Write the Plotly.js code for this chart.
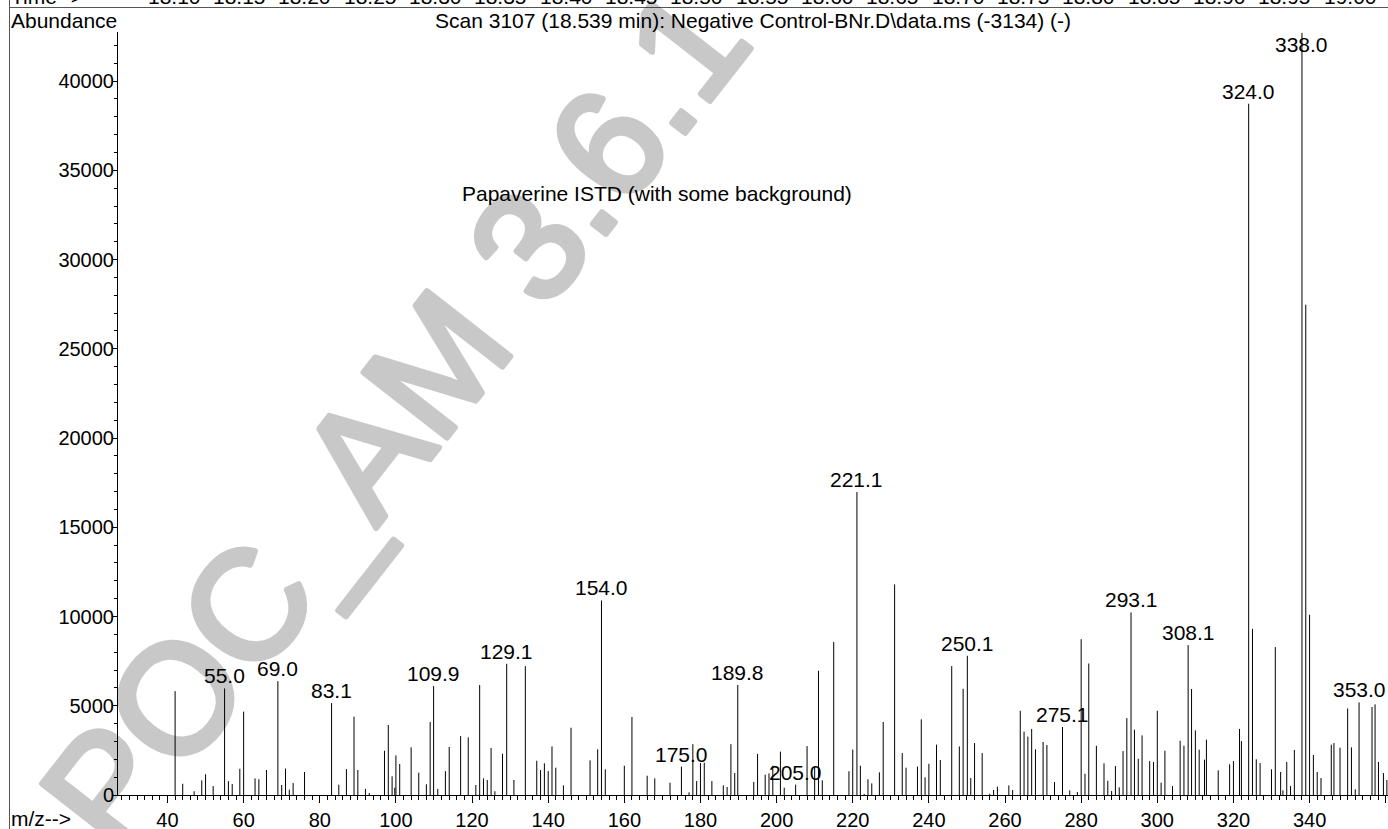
<!DOCTYPE html>
<html>
<head>
<meta charset="utf-8">
<script src="https://cdn.plot.ly/plotly-3.0.1.min.js"></script>
<style>
  html, body { margin: 0; padding: 0; background: #fff; }
  #chart { width: 1388px; height: 829px; }
</style>
</head>
<body>
<div id="chart"></div>
<script>
// Mass spectrum of scan 3107: m/z of each centroid and its abundance
const mz = [
  42, 44, 47, 49, 50, 52, 55.0, 56, 57, 59, 60, 63, 64, 66, 69.0, 70, 71, 72, 73, 76,
  83.1, 85, 87, 89, 90, 92, 93, 97, 98, 99, 99.7, 100, 101, 104, 106, 108, 109, 109.9, 111, 113,
  114, 117, 119, 121, 122, 123, 124, 125, 126, 128, 129.1, 131, 134, 137, 138, 139, 140, 141, 142, 144,
  146, 151, 153, 154.0, 155, 160, 162, 166, 168, 172, 175.0, 177, 178, 179, 180, 181, 183, 186, 187, 188,
  189, 189.8, 194, 195, 197, 198, 199, 201, 202, 205.0, 208, 210, 211, 212, 215, 219, 220, 221.1, 222, 223,
  224, 225, 227, 228, 231, 233, 234, 237, 238, 239, 240, 242, 243, 246, 248, 249, 250.1, 251, 252, 254,
  256, 257, 258, 261, 262, 264, 265, 266, 267, 268, 270, 271, 273, 275.1, 277, 279, 280, 281, 282, 284,
  286, 287, 288, 289, 290, 291, 292, 293.1, 294, 295, 296, 298, 299, 300, 301, 302, 304, 306, 307, 308.1,
  309, 310, 311, 312.4, 312.9, 316, 319, 320, 321.6, 322.1, 324.0, 325, 326, 327, 330, 331, 332.4, 333, 334, 335,
  336, 338.0, 339, 340, 341, 342, 343, 345.7, 346.4, 348, 350, 351, 352, 353.0, 356.4, 357.2, 358.1, 359.4, 360.3
];
const abundance = [
  5820, 630, 210, 820, 1160, 500, 5970, 780, 615, 1470, 4670, 930, 880, 1400, 6380, 560, 1480, 300, 670, 1290,
  5150, 580, 1450, 4390, 1400, 340, 110, 2480, 3920, 1045, 410, 2220, 1735, 2670, 1250, 600, 4090, 6100, 340, 1340,
  2690, 3300, 3230, 560, 6160, 930, 840, 2630, 210, 2310, 7350, 840, 7220, 1920, 1400, 1775, 1340, 2720, 1530, 540,
  3770, 1940, 2560, 10900, 1440, 1640, 4370, 1080, 930, 690, 1590, 150, 2850, 780, 1790, 1810, 780, 540, 450, 2850,
  1230, 6160, 730, 2300, 1140, 1210, 1640, 2430, 410, 580, 2740, 1590, 6960, 820, 8570, 1330, 2540, 16980, 1640, 60,
  880, 650, 1270, 4090, 11800, 2350, 1530, 1590, 4240, 990, 1750, 2820, 1960, 7220, 2720, 5950, 7800, 950, 2910, 2350,
  75, 280, 470, 540, 280, 4720, 3550, 3270, 3700, 2560, 2970, 2800, 730, 3810, 260, 170, 8730, 1190, 7370, 2760,
  1775, 800, 225, 1620, 430, 2460, 4310, 10230, 3660, 2030, 3340, 1900, 1850, 4720, 690, 2480, 500, 3040, 2760, 8400,
  5940, 3620, 2540, 1980, 3100, 1380, 1720, 1900, 3700, 3020, 38730, 9310, 2000, 1790, 1440, 8290, 1290, 260, 1850, 500,
  2520, 42700, 27470, 10100, 2240, 1290, 950, 2820, 2910, 2650, 4850, 2670, 320, 5190, 4930, 5080, 1850, 1230, 840
];
// Peaks that carry an m/z label
const labelledMz = [55.0, 69.0, 83.1, 109.9, 129.1, 154.0, 175.0, 189.8, 205.0, 221.1,
                    250.1, 275.1, 293.1, 308.1, 324.0, 338.0, 353.0];
// Retention-time ruler along the top strip
const times = [18.10, 18.15, 18.20, 18.25, 18.30, 18.35, 18.40, 18.45, 18.50, 18.55,
               18.60, 18.65, 18.70, 18.75, 18.80, 18.85, 18.90, 18.95, 19.00];

const W = 1388, H = 829;
const M = { l: 118, r: 0, t: 32, b: 34 };
const plotW = W - M.l - M.r, plotH = H - M.t - M.b;
const yMax = 42750;
// pixel -> paper helpers for the frame drawn around the plot
const px = x => (x - M.l) / plotW;
const py = y => 1 - (y - M.t) / plotH;

const FONT = 'Liberation Sans, Arial, Helvetica, sans-serif';
const fs = 21;

// Stick spectrum: one vertical segment per centroid
const sx = [], sy = [];
mz.forEach((m, i) => { sx.push(m, m, null); sy.push(0, abundance[i], null); });

const sticks = {
  type: 'scatter', mode: 'lines', x: sx, y: sy,
  line: { color: '#000', width: 1 }, hoverinfo: 'skip', showlegend: false,
  connectgaps: false
};

const annotations = [];

// Diagonal stamp across the page (translucent so the sticks show through)
annotations.push({
  xref: 'paper', yref: 'paper', x: px(395), y: py(418), xanchor: 'center', yanchor: 'middle',
  text: 'POC_AM 3.6.1', textangle: -52, showarrow: false, opacity: 0.21,
  font: { family: FONT, size: 154, color: '#000' }
});

// m/z labels above the labelled peaks (pinned under the top edge if they would not fit)
const unitsPerPx = yMax / plotH;
labelledMz.forEach(m => {
  const v = abundance[mz.indexOf(m)];
  const fits = v + 30 * unitsPerPx <= yMax;
  annotations.push({
    xref: 'x', yref: fits ? 'y' : 'paper', x: m, y: fits ? v : 1,
    xanchor: 'center', yanchor: fits ? 'bottom' : 'top',
    text: m.toFixed(1), showarrow: false, borderpad: 0,
    font: { family: FONT, size: fs, color: '#000' }
  });
});

// Header row
annotations.push({
  xref: 'paper', yref: 'paper', x: px(10), y: py(33), xanchor: 'left', yanchor: 'bottom',
  text: 'Abundance', showarrow: false, borderpad: 0,
  font: { family: FONT, size: fs, color: '#000' }
});
annotations.push({
  xref: 'paper', yref: 'paper', x: 0.5, y: py(33), xanchor: 'center', yanchor: 'bottom',
  text: 'Scan 3107 (18.539 min): Negative Control-BNr.D\\data.ms (-3134) (-)', showarrow: false, borderpad: 0,
  font: { family: FONT, size: fs, color: '#000' }
});
// Time ruler (its upper half runs off the page)
annotations.push({
  xref: 'paper', yref: 'paper', x: px(10), y: py(9), xanchor: 'left', yanchor: 'bottom',
  text: 'Time-->', showarrow: false, borderpad: 0,
  font: { family: FONT, size: fs, color: '#000' }
});
times.forEach(t => {
  annotations.push({
    xref: 'x2', yref: 'paper', x: t, y: py(9), xanchor: 'center', yanchor: 'bottom',
    text: t.toFixed(2), showarrow: false, borderpad: 0,
    font: { family: FONT, size: fs, color: '#000' }
  });
});
// Axis caption and note
annotations.push({
  xref: 'paper', yref: 'paper', x: px(10), y: py(806), xanchor: 'left', yanchor: 'top',
  text: 'm/z-->', showarrow: false, borderpad: 0,
  font: { family: FONT, size: fs, color: '#000' }
});
annotations.push({
  xref: 'paper', yref: 'paper', x: px(461), y: py(194), xanchor: 'left', yanchor: 'middle',
  text: 'Papaverine ISTD (with some background)', showarrow: false, borderpad: 0,
  font: { family: FONT, size: fs, color: '#000' }
});

const shapes = [
  // left frame edge
  { type: 'line', xref: 'paper', yref: 'paper', x0: px(9.5), x1: px(9.5), y0: py(H), y1: py(0),
    line: { color: '#555', width: 1 } },
  // separator under the time ruler
  { type: 'line', xref: 'paper', yref: 'paper', x0: px(9.5), x1: 1, y0: py(7.5), y1: py(7.5),
    line: { color: '#555', width: 1 } }
];

const layout = {
  width: W, height: H, margin: M,
  paper_bgcolor: '#fff', plot_bgcolor: '#fff',
  font: { family: FONT, size: fs, color: '#000' },
  showlegend: false,
  xaxis: {
    range: [27.0, 360.6], tick0: 0, dtick: 20, ticks: 'outside', ticklen: 7, tickwidth: 1,
    tickcolor: '#000', showline: true, linecolor: '#000', linewidth: 1, showgrid: false,
    zeroline: false, tickfont: { family: FONT, size: 20, color: '#000' },
    minor: { dtick: 2, ticks: 'outside', ticklen: 4, tickcolor: '#000', showgrid: false }
  },
  xaxis2: {
    range: [18.057, 19.029], overlaying: 'x', side: 'top', anchor: 'y', visible: false
  },
  yaxis: {
    range: [0, yMax], tick0: 0, dtick: 5000, ticks: 'outside', ticklen: 4, tickwidth: 1,
    tickcolor: '#000', showline: true, linecolor: '#000', linewidth: 1, showgrid: false,
    zeroline: false, tickformat: 'd', ticklabelstandoff: -5,
    tickfont: { family: FONT, size: 20, color: '#000' },
    minor: { dtick: 1000, ticks: 'outside', ticklen: 3, tickcolor: '#000', showgrid: false }
  },
  annotations: annotations,
  shapes: shapes
};

Plotly.newPlot('chart', [sticks], layout, { displayModeBar: false, staticPlot: true }).then(gd => {
  // give the stamp lettering a heavier stroke
  const stamp = gd.querySelector('.annotation text.annotation-text');
  if (stamp) {
    stamp.style.stroke = '#000';
    stamp.style.strokeWidth = '6px';
    stamp.style.strokeLinejoin = 'round';
  }
});
</script>
</body>
</html>
